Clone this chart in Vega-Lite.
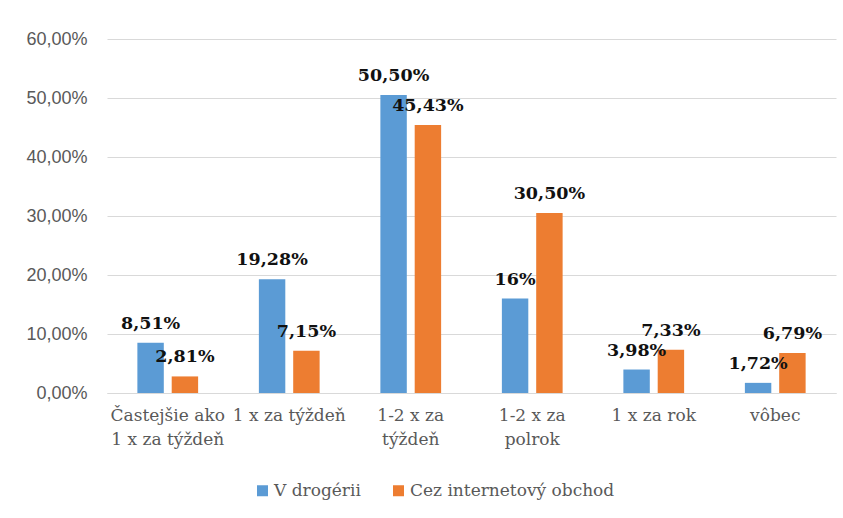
{
  "$schema": "https://vega.github.io/schema/vega-lite/v6.json",
  "autosize": {"type": "none"},
  "padding": {"left": 107, "top": 39, "right": 7, "bottom": 125},
  "width": 729,
  "height": 354,
  "background": "white",
  "config": {"view": {"stroke": null}},
  "data": {
    "values": [
      {"kategoria": "Častejšie ako 1 x za týždeň", "rad": "V drogérii", "hodnota": 0.0851, "popis": "8,51%"},
      {"kategoria": "Častejšie ako 1 x za týždeň", "rad": "Cez internetový obchod", "hodnota": 0.0281, "popis": "2,81%"},
      {"kategoria": "1 x za týždeň", "rad": "V drogérii", "hodnota": 0.1928, "popis": "19,28%"},
      {"kategoria": "1 x za týždeň", "rad": "Cez internetový obchod", "hodnota": 0.0715, "popis": "7,15%"},
      {"kategoria": "1-2 x za týždeň", "rad": "V drogérii", "hodnota": 0.505, "popis": "50,50%"},
      {"kategoria": "1-2 x za týždeň", "rad": "Cez internetový obchod", "hodnota": 0.4543, "popis": "45,43%"},
      {"kategoria": "1-2 x za polrok", "rad": "V drogérii", "hodnota": 0.16, "popis": "16%"},
      {"kategoria": "1-2 x za polrok", "rad": "Cez internetový obchod", "hodnota": 0.305, "popis": "30,50%"},
      {"kategoria": "1 x za rok", "rad": "V drogérii", "hodnota": 0.0398, "popis": "3,98%"},
      {"kategoria": "1 x za rok", "rad": "Cez internetový obchod", "hodnota": 0.0733, "popis": "7,33%"},
      {"kategoria": "vôbec", "rad": "V drogérii", "hodnota": 0.0172, "popis": "1,72%"},
      {"kategoria": "vôbec", "rad": "Cez internetový obchod", "hodnota": 0.0679, "popis": "6,79%"}
    ]
  },
  "encoding": {
    "x": {
      "field": "kategoria",
      "type": "nominal",
      "sort": null,
      "title": null,
      "scale": {"paddingInner": 0.5, "paddingOuter": 0.25},
      "axis": {
        "labelAngle": 0,
        "labelFont": "DejaVu Serif",
        "labelFontSize": 17,
        "labelColor": "#595959",
        "labelBaseline": "top",
        "labelPadding": 14,
        "labelLineHeight": 24,
        "labelLimit": 200,
        "ticks": false,
        "domainColor": "#d9d9d9",
        "domainWidth": 1,
        "labelExpr": "datum.value == 'Častejšie ako 1 x za týždeň' ? ['Častejšie ako', '1 x za týždeň'] : datum.value == '1-2 x za týždeň' ? ['1-2 x za', 'týždeň'] : datum.value == '1-2 x za polrok' ? ['1-2 x za', 'polrok'] : datum.value"
      }
    },
    "xOffset": {
      "field": "rad",
      "type": "nominal",
      "sort": ["V drogérii", "Cez internetový obchod"],
      "scale": {"paddingInner": 0.23, "paddingOuter": 0}
    },
    "y": {
      "field": "hodnota",
      "type": "quantitative",
      "title": null,
      "scale": {"domain": [0, 0.6], "nice": false},
      "axis": {
        "values": [0, 0.1, 0.2, 0.3, 0.4, 0.5, 0.6],
        "labelExpr": "replace(format(datum.value, '.2%'), '.', ',')",
        "labelFont": "Liberation Sans",
        "labelFontSize": 18,
        "labelColor": "#595959",
        "labelPadding": 20,
        "ticks": false,
        "domain": false,
        "gridColor": "#d9d9d9",
        "gridWidth": 1
      }
    }
  },
  "layer": [
    {
      "mark": {"type": "bar"},
      "encoding": {
        "color": {
          "field": "rad",
          "type": "nominal",
          "sort": ["V drogérii", "Cez internetový obchod"],
          "scale": {"domain": ["V drogérii", "Cez internetový obchod"], "range": ["#5b9bd5", "#ed7d31"]},
          "legend": {
            "title": null,
            "orient": "none",
            "legendX": 147,
            "legendY": 443,
            "direction": "horizontal",
            "symbolType": "square",
            "symbolSize": 121,
            "symbolStrokeWidth": 0,
            "labelFont": "DejaVu Serif",
            "labelFontSize": 17,
            "labelColor": "#595959",
            "labelOffset": 3,
            "columnPadding": 29,
            "labelLimit": 300
          }
        }
      }
    },
    {
      "mark": {
        "type": "text",
        "baseline": "alphabetic",
        "align": "center",
        "dy": -14,
        "font": "DejaVu Serif",
        "fontWeight": "bold",
        "fontSize": 17.5,
        "color": "#111111"
      },
      "encoding": {
        "text": {"field": "popis"}
      }
    }
  ]
}
